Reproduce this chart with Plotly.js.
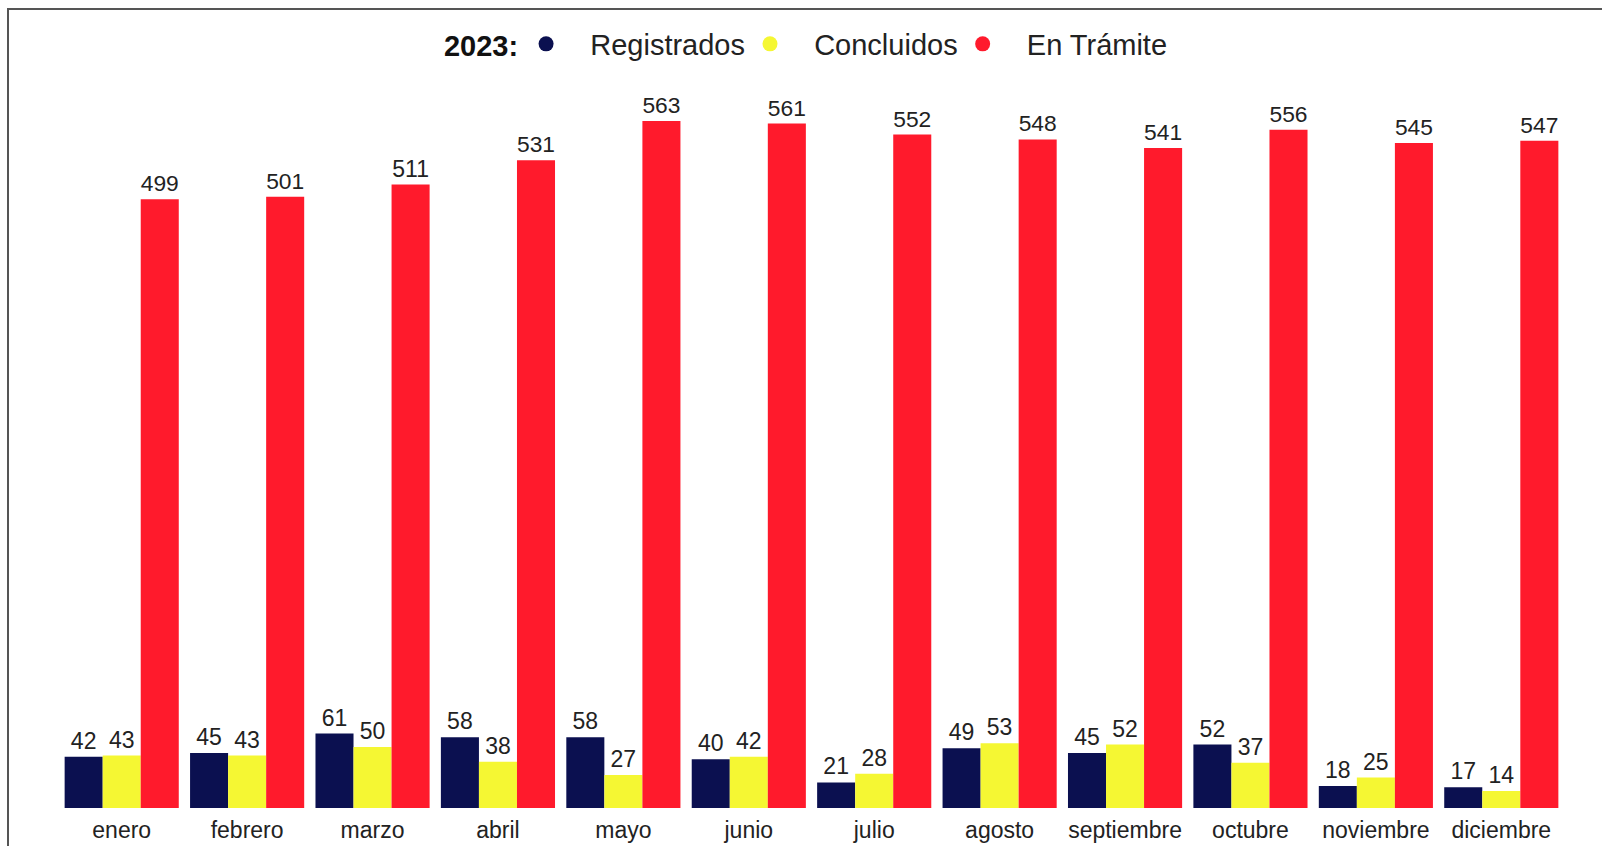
<!DOCTYPE html>
<html>
<head>
<meta charset="utf-8">
<script src="https://cdn.plot.ly/plotly-3.0.1.min.js"></script>
<style>
html,body{margin:0;padding:0;background:#fff;overflow:hidden;}
#wrap{position:relative;width:1602px;height:846px;}
#frame{position:absolute;left:7px;top:8px;width:1700px;height:900px;border:2px solid #555;box-sizing:border-box;pointer-events:none;}
#chart{position:absolute;left:0;top:0;width:1602px;height:846px;}
</style>
</head>
<body>
<div id="wrap">
<div id="chart"></div>
<div id="frame"></div>
</div>
<script>
var months = ["enero","febrero","marzo","abril","mayo","junio","julio","agosto","septiembre","octubre","noviembre","diciembre"];
var registrados = [42,45,61,58,58,40,21,49,45,52,18,17];
var concluidos = [43,43,50,38,27,42,28,53,52,37,25,14];
var enTramite = [499,501,511,531,563,561,552,548,541,556,545,547];
var seriesNames = ["Registrados","Concluidos","En Trámite"];
var seriesColors = ["#0b1050","#f5f733","#ff1a2c"];
var legendTitle = "2023:";

var seriesValues = [registrados, concluidos, enTramite];
var FONT = "Liberation Sans, Arial, sans-serif";
var PAD = "\u00a0\u00a0\u00a0";
var traces = [];
seriesValues.forEach(function(vals, i){
  traces.push({
    type: "bar",
    x: months,
    y: vals,
    name: seriesNames[i],
    marker: {color: seriesColors[i], line: {width: 0}},
    text: vals.map(String),
    textposition: "outside",
    textfont: {family: FONT, size: 23, color: "#222"},
    cliponaxis: false,
    showlegend: false,
    hoverinfo: "x+y+name"
  });
});
seriesValues.forEach(function(vals, i){
  traces.push({
    type: "scatter",
    mode: "markers",
    x: [null],
    y: [null],
    name: PAD + seriesNames[i],
    marker: {color: seriesColors[i], size: 15, symbol: "circle"},
    showlegend: true,
    hoverinfo: "skip"
  });
});

var layout = {
  width: 1602,
  height: 846,
  paper_bgcolor: "rgba(0,0,0,0)",
  plot_bgcolor: "rgba(0,0,0,0)",
  margin: {l: 59, r: 38, t: 80, b: 38, pad: 0},
  barmode: "group",
  bargap: 0.09,
  bargroupgap: 0,
  font: {family: FONT, color: "#222"},
  xaxis: {
    type: "category",
    tickfont: {family: FONT, size: 23, color: "#222"},
    ticklabelstandoff: 6,
    showgrid: false, zeroline: false, showline: false, ticks: "",
    fixedrange: true
  },
  yaxis: {
    range: [0, 596.7],
    visible: false,
    showgrid: false, zeroline: false,
    fixedrange: true
  },
  showlegend: true,
  legend: {
    orientation: "h",
    xref: "container", yref: "container",
    x: 0.504, xanchor: "center",
    y: 0.948, yanchor: "middle",
    font: {family: FONT, size: 29, color: "#222"},
    title: {text: "<b>" + legendTitle + "</b>", font: {family: FONT, size: 29, color: "#111"}, side: "left"},
    itemwidth: 30,
    bgcolor: "rgba(0,0,0,0)"
  }
};

Plotly.newPlot("chart", traces, layout, {displayModeBar: false, staticPlot: true});
</script>
</body>
</html>
